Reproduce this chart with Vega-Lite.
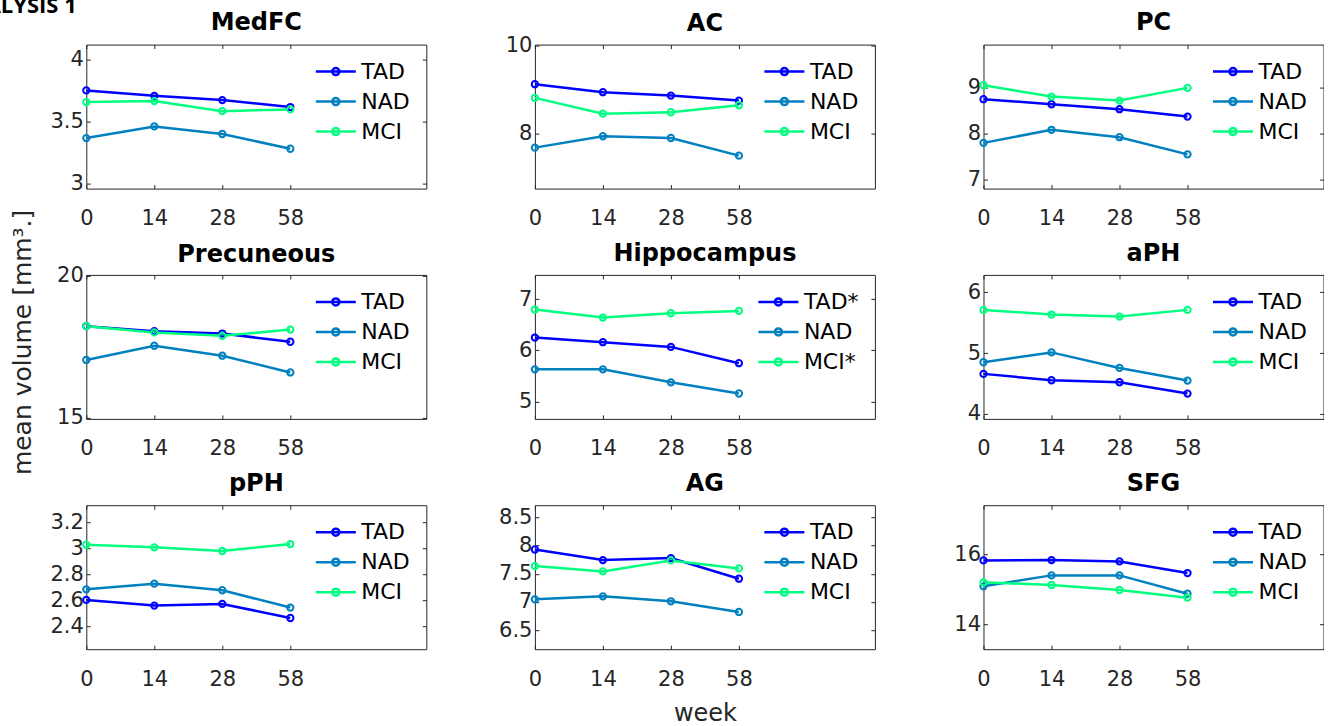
{
  "$schema": "https://vega.github.io/schema/vega-lite/v6.json",
  "background": "white",
  "padding": {"left": -47.7, "top": -5.4, "right": 0, "bottom": 0},
  "title": {"text": "ANALYSIS 1", "anchor": "start", "frame": "bounds", "font": "Open Sans", "fontSize": 22, "fontWeight": "bold", "color": "#000000", "offset": -6.4, "dx": -57.7},
  "data": {"values": [
    {"region":"MedFC","group":"TAD","step":0,"week":0,"volume":3.751},
    {"region":"MedFC","group":"TAD","step":1,"week":14,"volume":3.707},
    {"region":"MedFC","group":"TAD","step":2,"week":28,"volume":3.673},
    {"region":"MedFC","group":"TAD","step":3,"week":58,"volume":3.617},
    {"region":"MedFC","group":"NAD","step":0,"week":0,"volume":3.367},
    {"region":"MedFC","group":"NAD","step":1,"week":14,"volume":3.461},
    {"region":"MedFC","group":"NAD","step":2,"week":28,"volume":3.400},
    {"region":"MedFC","group":"NAD","step":3,"week":58,"volume":3.281},
    {"region":"MedFC","group":"MCI","step":0,"week":0,"volume":3.657},
    {"region":"MedFC","group":"MCI","step":1,"week":14,"volume":3.665},
    {"region":"MedFC","group":"MCI","step":2,"week":28,"volume":3.584},
    {"region":"MedFC","group":"MCI","step":3,"week":58,"volume":3.598},
    {"region":"AC","group":"TAD","step":0,"week":0,"volume":9.118},
    {"region":"AC","group":"TAD","step":1,"week":14,"volume":8.937},
    {"region":"AC","group":"TAD","step":2,"week":28,"volume":8.860},
    {"region":"AC","group":"TAD","step":3,"week":58,"volume":8.747},
    {"region":"AC","group":"NAD","step":0,"week":0,"volume":7.683},
    {"region":"AC","group":"NAD","step":1,"week":14,"volume":7.940},
    {"region":"AC","group":"NAD","step":2,"week":28,"volume":7.900},
    {"region":"AC","group":"NAD","step":3,"week":58,"volume":7.502},
    {"region":"AC","group":"MCI","step":0,"week":0,"volume":8.808},
    {"region":"AC","group":"MCI","step":1,"week":14,"volume":8.452},
    {"region":"AC","group":"MCI","step":2,"week":28,"volume":8.484},
    {"region":"AC","group":"MCI","step":3,"week":58,"volume":8.642},
    {"region":"PC","group":"TAD","step":0,"week":0,"volume":8.739},
    {"region":"PC","group":"TAD","step":1,"week":14,"volume":8.630},
    {"region":"PC","group":"TAD","step":2,"week":28,"volume":8.522},
    {"region":"PC","group":"TAD","step":3,"week":58,"volume":8.361},
    {"region":"PC","group":"NAD","step":0,"week":0,"volume":7.790},
    {"region":"PC","group":"NAD","step":1,"week":14,"volume":8.074},
    {"region":"PC","group":"NAD","step":2,"week":28,"volume":7.913},
    {"region":"PC","group":"NAD","step":3,"week":58,"volume":7.540},
    {"region":"PC","group":"MCI","step":0,"week":0,"volume":9.043},
    {"region":"PC","group":"MCI","step":1,"week":14,"volume":8.796},
    {"region":"PC","group":"MCI","step":2,"week":28,"volume":8.709},
    {"region":"PC","group":"MCI","step":3,"week":58,"volume":8.985},
    {"region":"Precuneous","group":"TAD","step":0,"week":0,"volume":18.23},
    {"region":"Precuneous","group":"TAD","step":1,"week":14,"volume":18.05},
    {"region":"Precuneous","group":"TAD","step":2,"week":28,"volume":17.97},
    {"region":"Precuneous","group":"TAD","step":3,"week":58,"volume":17.68},
    {"region":"Precuneous","group":"NAD","step":0,"week":0,"volume":17.04},
    {"region":"Precuneous","group":"NAD","step":1,"week":14,"volume":17.54},
    {"region":"Precuneous","group":"NAD","step":2,"week":28,"volume":17.19},
    {"region":"Precuneous","group":"NAD","step":3,"week":58,"volume":16.60},
    {"region":"Precuneous","group":"MCI","step":0,"week":0,"volume":18.23},
    {"region":"Precuneous","group":"MCI","step":1,"week":14,"volume":18.01},
    {"region":"Precuneous","group":"MCI","step":2,"week":28,"volume":17.89},
    {"region":"Precuneous","group":"MCI","step":3,"week":58,"volume":18.11},
    {"region":"Hippocampus","group":"TAD","step":0,"week":0,"volume":6.251},
    {"region":"Hippocampus","group":"TAD","step":1,"week":14,"volume":6.160},
    {"region":"Hippocampus","group":"TAD","step":2,"week":28,"volume":6.068},
    {"region":"Hippocampus","group":"TAD","step":3,"week":58,"volume":5.749},
    {"region":"Hippocampus","group":"NAD","step":0,"week":0,"volume":5.629},
    {"region":"Hippocampus","group":"NAD","step":1,"week":14,"volume":5.629},
    {"region":"Hippocampus","group":"NAD","step":2,"week":28,"volume":5.375},
    {"region":"Hippocampus","group":"NAD","step":3,"week":58,"volume":5.156},
    {"region":"Hippocampus","group":"MCI","step":0,"week":0,"volume":6.798},
    {"region":"Hippocampus","group":"MCI","step":1,"week":14,"volume":6.642},
    {"region":"Hippocampus","group":"MCI","step":2,"week":28,"volume":6.726},
    {"region":"Hippocampus","group":"MCI","step":3,"week":58,"volume":6.772},
    {"region":"aPH","group":"TAD","step":0,"week":0,"volume":4.658},
    {"region":"aPH","group":"TAD","step":1,"week":14,"volume":4.553},
    {"region":"aPH","group":"TAD","step":2,"week":28,"volume":4.520},
    {"region":"aPH","group":"TAD","step":3,"week":58,"volume":4.334},
    {"region":"aPH","group":"NAD","step":0,"week":0,"volume":4.849},
    {"region":"aPH","group":"NAD","step":1,"week":14,"volume":5.011},
    {"region":"aPH","group":"NAD","step":2,"week":28,"volume":4.756},
    {"region":"aPH","group":"NAD","step":3,"week":58,"volume":4.548},
    {"region":"aPH","group":"MCI","step":0,"week":0,"volume":5.710},
    {"region":"aPH","group":"MCI","step":1,"week":14,"volume":5.633},
    {"region":"aPH","group":"MCI","step":2,"week":28,"volume":5.600},
    {"region":"aPH","group":"MCI","step":3,"week":58,"volume":5.710},
    {"region":"pPH","group":"TAD","step":0,"week":0,"volume":2.605},
    {"region":"pPH","group":"TAD","step":1,"week":14,"volume":2.561},
    {"region":"pPH","group":"TAD","step":2,"week":28,"volume":2.574},
    {"region":"pPH","group":"TAD","step":3,"week":58,"volume":2.466},
    {"region":"pPH","group":"NAD","step":0,"week":0,"volume":2.686},
    {"region":"pPH","group":"NAD","step":1,"week":14,"volume":2.730},
    {"region":"pPH","group":"NAD","step":2,"week":28,"volume":2.679},
    {"region":"pPH","group":"NAD","step":3,"week":58,"volume":2.546},
    {"region":"pPH","group":"MCI","step":0,"week":0,"volume":3.029},
    {"region":"pPH","group":"MCI","step":1,"week":14,"volume":3.009},
    {"region":"pPH","group":"MCI","step":2,"week":28,"volume":2.981},
    {"region":"pPH","group":"MCI","step":3,"week":58,"volume":3.034},
    {"region":"AG","group":"TAD","step":0,"week":0,"volume":7.929},
    {"region":"AG","group":"TAD","step":1,"week":14,"volume":7.741},
    {"region":"AG","group":"TAD","step":2,"week":28,"volume":7.776},
    {"region":"AG","group":"TAD","step":3,"week":58,"volume":7.412},
    {"region":"AG","group":"NAD","step":0,"week":0,"volume":7.047},
    {"region":"AG","group":"NAD","step":1,"week":14,"volume":7.100},
    {"region":"AG","group":"NAD","step":2,"week":28,"volume":7.012},
    {"region":"AG","group":"NAD","step":3,"week":58,"volume":6.824},
    {"region":"AG","group":"MCI","step":0,"week":0,"volume":7.635},
    {"region":"AG","group":"MCI","step":1,"week":14,"volume":7.541},
    {"region":"AG","group":"MCI","step":2,"week":28,"volume":7.735},
    {"region":"AG","group":"MCI","step":3,"week":58,"volume":7.594},
    {"region":"SFG","group":"TAD","step":0,"week":0,"volume":15.821},
    {"region":"SFG","group":"TAD","step":1,"week":14,"volume":15.830},
    {"region":"SFG","group":"TAD","step":2,"week":28,"volume":15.792},
    {"region":"SFG","group":"TAD","step":3,"week":58,"volume":15.462},
    {"region":"SFG","group":"NAD","step":0,"week":0,"volume":15.085},
    {"region":"SFG","group":"NAD","step":1,"week":14,"volume":15.396},
    {"region":"SFG","group":"NAD","step":2,"week":28,"volume":15.396},
    {"region":"SFG","group":"NAD","step":3,"week":58,"volume":14.877},
    {"region":"SFG","group":"MCI","step":0,"week":0,"volume":15.198},
    {"region":"SFG","group":"MCI","step":1,"week":14,"volume":15.123},
    {"region":"SFG","group":"MCI","step":2,"week":28,"volume":14.981},
    {"region":"SFG","group":"MCI","step":3,"week":58,"volume":14.764}
  ]},
  "columns": 3,
  "bounds": "flush",
  "spacing": {"row": 86.3, "column": 108.6},
  "resolve": {"scale": {"x": "independent", "y": "independent", "color": "independent"}, "legend": {"color": "independent"}},
  "concat": [
    {
      "title": {"text": "MedFC", "frame": "group", "offset": 8.8}, "width": 340, "height": 144,
      "transform": [{"filter": "datum.region === 'MedFC'"}],
      "layer": [
        {"mark": {"type": "line", "strokeWidth": 2.5},
         "encoding": {
           "x": {"field": "step", "type": "quantitative", "scale": {"domain": [0, 5], "nice": false}, "axis": {"title": null, "values": [0, 1, 2, 3], "labelExpr": "['0','14','28','58'][datum.value]"}},
           "y": {"field": "volume", "type": "quantitative", "scale": {"domain": [2.96, 4.12], "nice": false, "zero": false}, "axis": {"title": "mean volume [mm³.]", "titleX": -56, "titleY": 297.3, "titleAngle": 270, "titleAlign": "center", "titleBaseline": "alphabetic", "titleFont": "DejaVu Sans", "titleFontSize": 25, "titleFontWeight": "normal", "titleColor": "#262626", "values": [3, 3.5, 4], "format": "~r"}},
           "color": {"field": "group", "type": "nominal", "scale": {"domain": ["TAD", "NAD", "MCI"], "range": ["#0000ff", "#0080bf", "#00ff80"]}, "legend": {"title": null}}}},
        {"mark": {"type": "point", "filled": false, "size": 40, "strokeWidth": 2, "opacity": 1},
         "encoding": {
           "x": {"field": "step", "type": "quantitative", "axis": {"orient": "top", "title": null, "values": [0, 1, 2, 3]}},
           "y": {"field": "volume", "type": "quantitative", "axis": {"orient": "right", "title": null, "values": [3, 3.5, 4]}},
           "color": {"field": "group", "type": "nominal", "legend": {"title": null}}}}
      ],
      "resolve": {"axis": {"x": "independent", "y": "independent"}}
    },
    {
      "title": {"text": "AC", "frame": "group", "offset": -2.2}, "width": 340, "height": 144,
      "transform": [{"filter": "datum.region === 'AC'"}],
      "layer": [
        {"mark": {"type": "line", "strokeWidth": 2.5},
         "encoding": {
           "x": {"field": "step", "type": "quantitative", "scale": {"domain": [0, 5], "nice": false}, "axis": {"title": null, "values": [0, 1, 2, 3], "labelExpr": "['0','14','28','58'][datum.value]"}},
           "y": {"field": "volume", "type": "quantitative", "scale": {"domain": [6.756, 10.014], "nice": false, "zero": false}, "axis": {"title": null, "values": [8, 10], "format": "~r"}},
           "color": {"field": "group", "type": "nominal", "scale": {"domain": ["TAD", "NAD", "MCI"], "range": ["#0000ff", "#0080bf", "#00ff80"]}, "legend": {"title": null}}}},
        {"mark": {"type": "point", "filled": false, "size": 40, "strokeWidth": 2, "opacity": 1},
         "encoding": {
           "x": {"field": "step", "type": "quantitative", "axis": {"orient": "top", "title": null, "values": [0, 1, 2, 3]}},
           "y": {"field": "volume", "type": "quantitative", "axis": {"orient": "right", "title": null, "values": [8, 10]}},
           "color": {"field": "group", "type": "nominal", "legend": {"title": null}}}}
      ],
      "resolve": {"axis": {"x": "independent", "y": "independent"}}
    },
    {
      "title": {"text": "PC", "frame": "group", "offset": 8.8}, "width": 340, "height": 144,
      "transform": [{"filter": "datum.region === 'PC'"}],
      "layer": [
        {"mark": {"type": "line", "strokeWidth": 2.5},
         "encoding": {
           "x": {"field": "step", "type": "quantitative", "scale": {"domain": [0, 5], "nice": false}, "axis": {"title": null, "values": [0, 1, 2, 3], "labelExpr": "['0','14','28','58'][datum.value]"}},
           "y": {"field": "volume", "type": "quantitative", "scale": {"domain": [6.796, 9.926], "nice": false, "zero": false}, "axis": {"title": null, "values": [7, 8, 9], "format": "~r"}},
           "color": {"field": "group", "type": "nominal", "scale": {"domain": ["TAD", "NAD", "MCI"], "range": ["#0000ff", "#0080bf", "#00ff80"]}, "legend": {"title": null}}}},
        {"mark": {"type": "point", "filled": false, "size": 40, "strokeWidth": 2, "opacity": 1},
         "encoding": {
           "x": {"field": "step", "type": "quantitative", "axis": {"orient": "top", "title": null, "values": [0, 1, 2, 3]}},
           "y": {"field": "volume", "type": "quantitative", "axis": {"orient": "right", "title": null, "values": [7, 8, 9]}},
           "color": {"field": "group", "type": "nominal", "legend": {"title": null}}}}
      ],
      "resolve": {"axis": {"x": "independent", "y": "independent"}}
    },
    {
      "title": {"text": "Precuneous", "frame": "group", "offset": -1.8}, "width": 340, "height": 144,
      "transform": [{"filter": "datum.region === 'Precuneous'"}],
      "layer": [
        {"mark": {"type": "line", "strokeWidth": 2.5},
         "encoding": {
           "x": {"field": "step", "type": "quantitative", "scale": {"domain": [0, 5], "nice": false}, "axis": {"title": null, "values": [0, 1, 2, 3], "labelExpr": "['0','14','28','58'][datum.value]"}},
           "y": {"field": "volume", "type": "quantitative", "scale": {"domain": [14.965, 20.035], "nice": false, "zero": false}, "axis": {"title": null, "values": [15, 20], "format": "~r"}},
           "color": {"field": "group", "type": "nominal", "scale": {"domain": ["TAD", "NAD", "MCI"], "range": ["#0000ff", "#0080bf", "#00ff80"]}, "legend": {"title": null}}}},
        {"mark": {"type": "point", "filled": false, "size": 40, "strokeWidth": 2, "opacity": 1},
         "encoding": {
           "x": {"field": "step", "type": "quantitative", "axis": {"orient": "top", "title": null, "values": [0, 1, 2, 3]}},
           "y": {"field": "volume", "type": "quantitative", "axis": {"orient": "right", "title": null, "values": [15, 20]}},
           "color": {"field": "group", "type": "nominal", "legend": {"title": null}}}}
      ],
      "resolve": {"axis": {"x": "independent", "y": "independent"}}
    },
    {
      "title": {"text": "Hippocampus", "frame": "group", "offset": 8.8}, "width": 340, "height": 144,
      "transform": [{"filter": "datum.region === 'Hippocampus'"}],
      "layer": [
        {"mark": {"type": "line", "strokeWidth": 2.5},
         "encoding": {
           "x": {"field": "step", "type": "quantitative", "scale": {"domain": [0, 5], "nice": false}, "axis": {"title": null, "values": [0, 1, 2, 3], "labelExpr": "['0','14','28','58'][datum.value]"}},
           "y": {"field": "volume", "type": "quantitative", "scale": {"domain": [4.66, 7.476], "nice": false, "zero": false}, "axis": {"title": null, "values": [5, 6, 7], "format": "~r"}},
           "color": {"field": "group", "type": "nominal", "scale": {"domain": ["TAD", "NAD", "MCI"], "range": ["#0000ff", "#0080bf", "#00ff80"]}, "legend": {"title": null, "labelExpr": "datum.label === 'NAD' ? 'NAD' : datum.label + '*'"}}}},
        {"mark": {"type": "point", "filled": false, "size": 40, "strokeWidth": 2, "opacity": 1},
         "encoding": {
           "x": {"field": "step", "type": "quantitative", "axis": {"orient": "top", "title": null, "values": [0, 1, 2, 3]}},
           "y": {"field": "volume", "type": "quantitative", "axis": {"orient": "right", "title": null, "values": [5, 6, 7]}},
           "color": {"field": "group", "type": "nominal", "legend": {"title": null, "labelExpr": "datum.label === 'NAD' ? 'NAD' : datum.label + '*'"}}}}
      ],
      "resolve": {"axis": {"x": "independent", "y": "independent"}}
    },
    {
      "title": {"text": "aPH", "frame": "group", "offset": 8.8}, "width": 340, "height": 144,
      "transform": [{"filter": "datum.region === 'aPH'"}],
      "layer": [
        {"mark": {"type": "line", "strokeWidth": 2.5},
         "encoding": {
           "x": {"field": "step", "type": "quantitative", "scale": {"domain": [0, 5], "nice": false}, "axis": {"title": null, "values": [0, 1, 2, 3], "labelExpr": "['0','14','28','58'][datum.value]"}},
           "y": {"field": "volume", "type": "quantitative", "scale": {"domain": [3.918, 6.285], "nice": false, "zero": false}, "axis": {"title": null, "values": [4, 5, 6], "format": "~r"}},
           "color": {"field": "group", "type": "nominal", "scale": {"domain": ["TAD", "NAD", "MCI"], "range": ["#0000ff", "#0080bf", "#00ff80"]}, "legend": {"title": null}}}},
        {"mark": {"type": "point", "filled": false, "size": 40, "strokeWidth": 2, "opacity": 1},
         "encoding": {
           "x": {"field": "step", "type": "quantitative", "axis": {"orient": "top", "title": null, "values": [0, 1, 2, 3]}},
           "y": {"field": "volume", "type": "quantitative", "axis": {"orient": "right", "title": null, "values": [4, 5, 6]}},
           "color": {"field": "group", "type": "nominal", "legend": {"title": null}}}}
      ],
      "resolve": {"axis": {"x": "independent", "y": "independent"}}
    },
    {
      "title": {"text": "pPH", "frame": "group", "offset": 8.8}, "width": 340, "height": 144,
      "transform": [{"filter": "datum.region === 'pPH'"}],
      "layer": [
        {"mark": {"type": "line", "strokeWidth": 2.5},
         "encoding": {
           "x": {"field": "step", "type": "quantitative", "scale": {"domain": [0, 5], "nice": false}, "axis": {"title": null, "values": [0, 1, 2, 3], "labelExpr": "['0','14','28','58'][datum.value]"}},
           "y": {"field": "volume", "type": "quantitative", "scale": {"domain": [2.226, 3.333], "nice": false, "zero": false}, "axis": {"title": null, "values": [2.4, 2.6, 2.8, 3, 3.2], "format": "~r"}},
           "color": {"field": "group", "type": "nominal", "scale": {"domain": ["TAD", "NAD", "MCI"], "range": ["#0000ff", "#0080bf", "#00ff80"]}, "legend": {"title": null}}}},
        {"mark": {"type": "point", "filled": false, "size": 40, "strokeWidth": 2, "opacity": 1},
         "encoding": {
           "x": {"field": "step", "type": "quantitative", "axis": {"orient": "top", "title": null, "values": [0, 1, 2, 3]}},
           "y": {"field": "volume", "type": "quantitative", "axis": {"orient": "right", "title": null, "values": [2.4, 2.6, 2.8, 3, 3.2]}},
           "color": {"field": "group", "type": "nominal", "legend": {"title": null}}}}
      ],
      "resolve": {"axis": {"x": "independent", "y": "independent"}}
    },
    {
      "title": {"text": "AG", "frame": "group", "offset": 8.8}, "width": 340, "height": 144,
      "transform": [{"filter": "datum.region === 'AG'"}],
      "layer": [
        {"mark": {"type": "line", "strokeWidth": 2.5},
         "encoding": {
           "x": {"field": "step", "type": "quantitative", "scale": {"domain": [0, 5], "nice": false}, "axis": {"title": "week", "titleX": 170, "titleY": 71.5, "titleAlign": "center", "titleBaseline": "alphabetic", "titleFont": "DejaVu Sans", "titleFontSize": 24, "titleFontWeight": "normal", "titleColor": "#262626", "values": [0, 1, 2, 3], "labelExpr": "['0','14','28','58'][datum.value]"}},
           "y": {"field": "volume", "type": "quantitative", "scale": {"domain": [6.165, 8.712], "nice": false, "zero": false}, "axis": {"title": null, "values": [6.5, 7, 7.5, 8, 8.5], "format": "~r"}},
           "color": {"field": "group", "type": "nominal", "scale": {"domain": ["TAD", "NAD", "MCI"], "range": ["#0000ff", "#0080bf", "#00ff80"]}, "legend": {"title": null}}}},
        {"mark": {"type": "point", "filled": false, "size": 40, "strokeWidth": 2, "opacity": 1},
         "encoding": {
           "x": {"field": "step", "type": "quantitative", "axis": {"orient": "top", "title": null, "values": [0, 1, 2, 3]}},
           "y": {"field": "volume", "type": "quantitative", "axis": {"orient": "right", "title": null, "values": [6.5, 7, 7.5, 8, 8.5]}},
           "color": {"field": "group", "type": "nominal", "legend": {"title": null}}}}
      ],
      "resolve": {"axis": {"x": "independent", "y": "independent"}}
    },
    {
      "title": {"text": "SFG", "frame": "group", "offset": 8.8}, "width": 340, "height": 144,
      "transform": [{"filter": "datum.region === 'SFG'"}],
      "layer": [
        {"mark": {"type": "line", "strokeWidth": 2.5},
         "encoding": {
           "x": {"field": "step", "type": "quantitative", "scale": {"domain": [0, 5], "nice": false}, "axis": {"title": null, "values": [0, 1, 2, 3], "labelExpr": "['0','14','28','58'][datum.value]"}},
           "y": {"field": "volume", "type": "quantitative", "scale": {"domain": [13.302, 17.387], "nice": false, "zero": false}, "axis": {"title": null, "values": [14, 16], "format": "~r"}},
           "color": {"field": "group", "type": "nominal", "scale": {"domain": ["TAD", "NAD", "MCI"], "range": ["#0000ff", "#0080bf", "#00ff80"]}, "legend": {"title": null}}}},
        {"mark": {"type": "point", "filled": false, "size": 40, "strokeWidth": 2, "opacity": 1},
         "encoding": {
           "x": {"field": "step", "type": "quantitative", "axis": {"orient": "top", "title": null, "values": [0, 1, 2, 3]}},
           "y": {"field": "volume", "type": "quantitative", "axis": {"orient": "right", "title": null, "values": [14, 16]}},
           "color": {"field": "group", "type": "nominal", "legend": {"title": null}}}}
      ],
      "resolve": {"axis": {"x": "independent", "y": "independent"}}
    }
  ],
  "config": {
    "view": {"stroke": null},
    "title": {"font": "DejaVu Sans", "fontSize": 24, "fontWeight": "bold", "color": "#000000", "offset": 8.8, "frame": "group", "anchor": "middle"},
    "axis": {"grid": false, "domainColor": "#262626", "domainWidth": 1, "tickColor": "#262626", "tickWidth": 1, "tickSize": -4, "labelColor": "#262626", "labelFont": "DejaVu Sans", "labelFontSize": 21, "labelFlush": false, "labelOverlap": false},
    "axisBottom": {"labelBaseline": "alphabetic", "labelPadding": 40},
    "axisLeft": {"labelPadding": 7},
    "axisTop": {"labels": false},
    "axisRight": {"labels": false},
    "legend": {"orient": "top-right", "offset": 16, "padding": 0, "labelFont": "DejaVu Sans", "labelFontSize": 22, "labelColor": "#000000", "symbolType": "M -1 0 L 1 0 M -0.175 0 A 0.175 0.175 0 1 0 0.175 0 A 0.175 0.175 0 1 0 -0.175 0", "symbolSize": 1600, "symbolStrokeWidth": 2.5, "symbolFillColor": "transparent", "labelOffset": 4, "rowPadding": 8, "clipHeight": 22}
  }
}
